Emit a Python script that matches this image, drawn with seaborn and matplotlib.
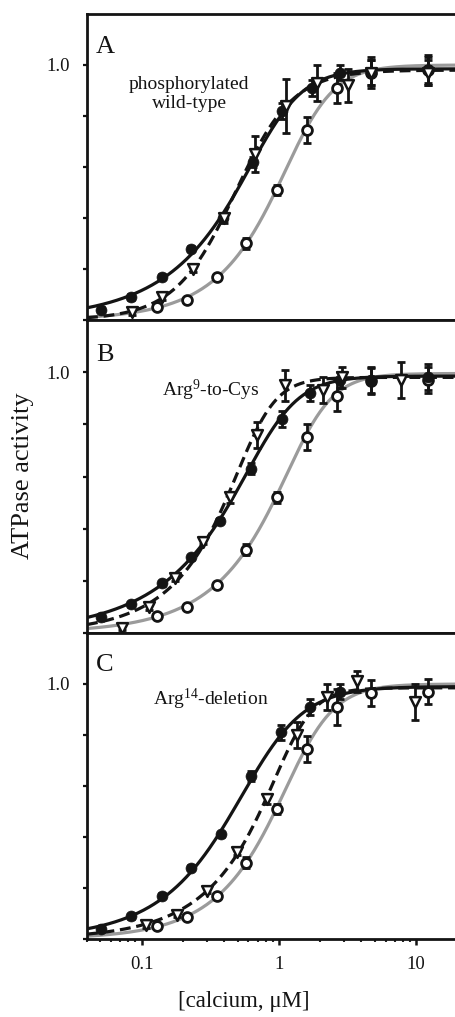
import numpy as np
import pandas as pd
import matplotlib
matplotlib.use("Agg")
import matplotlib.pyplot as plt
import seaborn as sns
from matplotlib.ticker import FixedLocator, FixedFormatter, NullFormatter

# ---------------- data ----------------
# Panel A: phosphorylated wild-type
A_fill_x = [0.051, 0.084, 0.14, 0.23, 0.39, 0.65, 1.05, 1.75, 2.8, 4.7, 12.3]
A_fill_y = [0.04, 0.09, 0.17, 0.28, 0.40, 0.62, 0.82, 0.91, 0.97, 0.97, 0.98]
A_fill_e = [0.01, 0.01, 0.01, 0.01, 0.01, 0.02, 0.03, 0.03, 0.03, 0.05, 0.05]
A_tri_x = [0.085, 0.14, 0.235, 0.40, 0.67, 1.12, 1.9, 3.2, 4.7, 12.3]
A_tri_y = [0.03, 0.09, 0.20, 0.40, 0.65, 0.84, 0.93, 0.92, 0.97, 0.97]
A_tri_e = [0.01, 0.01, 0.01, 0.02, 0.07, 0.105, 0.07, 0.065, 0.05, 0.05]
A_open_x = [0.13, 0.215, 0.355, 0.575, 0.97, 1.6, 2.65, 4.7, 12.3]
A_open_y = [0.05, 0.08, 0.17, 0.30, 0.51, 0.745, 0.91, 0.97, 0.98]
A_open_e = [0.01, 0.01, 0.01, 0.02, 0.02, 0.05, 0.06, 0.06, 0.06]

# Panel B: Arg9-to-Cys
B_fill_x = [0.051, 0.084, 0.14, 0.23, 0.37, 0.63, 1.05, 1.7, 2.8, 4.7, 12.3]
B_fill_y = [0.06, 0.11, 0.19, 0.29, 0.43, 0.63, 0.82, 0.92, 0.97, 0.97, 0.98]
B_fill_e = [0.01, 0.01, 0.01, 0.01, 0.01, 0.02, 0.03, 0.03, 0.03, 0.05, 0.05]
B_tri_x = [0.072, 0.113, 0.175, 0.28, 0.44, 0.69, 1.1, 2.1, 2.9, 7.7]
B_tri_y = [0.02, 0.10, 0.21, 0.35, 0.52, 0.76, 0.95, 0.93, 0.98, 0.97]
B_tri_e = [0.01, 0.01, 0.01, 0.01, 0.02, 0.05, 0.06, 0.05, 0.04, 0.07]
B_open_x = [0.13, 0.215, 0.355, 0.575, 0.97, 1.6, 2.65, 4.7, 12.3]
B_open_y = [0.065, 0.10, 0.185, 0.32, 0.52, 0.75, 0.91, 0.965, 0.97]
B_open_e = [0.01, 0.01, 0.01, 0.02, 0.02, 0.05, 0.06, 0.05, 0.05]

# Panel C: Arg14-deletion
C_fill_x = [0.051, 0.084, 0.14, 0.23, 0.38, 0.63, 1.03, 1.7, 2.8]
C_fill_y = [0.04, 0.09, 0.17, 0.28, 0.41, 0.64, 0.81, 0.91, 0.97]
C_fill_e = [0.01, 0.01, 0.01, 0.01, 0.01, 0.02, 0.03, 0.03, 0.03]
C_tri_x = [0.107, 0.18, 0.30, 0.495, 0.82, 1.35, 2.24, 3.7, 9.9]
C_tri_y = [0.055, 0.095, 0.19, 0.34, 0.55, 0.80, 0.95, 1.01, 0.93]
C_tri_e = [0.01, 0.01, 0.01, 0.01, 0.02, 0.05, 0.05, 0.04, 0.07]
C_open_x = [0.13, 0.215, 0.355, 0.575, 0.97, 1.6, 2.65, 4.7, 12.3]
C_open_y = [0.05, 0.085, 0.17, 0.30, 0.51, 0.745, 0.91, 0.965, 0.97]
C_open_e = [0.01, 0.01, 0.01, 0.02, 0.02, 0.05, 0.07, 0.05, 0.05]

# Parameters of the drawn fit curves, y = V / (1 + (K/x)^n)^m : (K, n, m, V)
A_fits = {"fill": (0.909, 2.55, 0.38, 0.985), "tri": (0.518, 2.10, 0.87, 0.98),
          "open": (1.481, 2.65, 0.47, 1.0)}
B_fits = {"fill": (0.876, 2.60, 0.35, 0.985), "tri": (0.673, 3.45, 0.35, 0.98),
          "open": (1.597, 2.90, 0.38, 0.995)}
C_fits = {"fill": (0.726, 2.05, 0.54, 0.99), "tri": (1.275, 3.45, 0.33, 0.985),
          "open": (1.481, 2.65, 0.47, 1.0)}

panel_letters = ["A", "B", "C"]
panel_notes = ["phosphorylated\nwild-type", "Arg$^{\\mathregular{9}}$-to-Cys",
               "Arg$^{\\mathregular{14}}$-deletion"]
x_tick_vals = [0.1, 1, 10]
x_tick_labels = ["0.1", "1", "10"]
y_tick_vals = [0.0, 0.2, 0.4, 0.6, 0.8, 1.0]
y_tick_labels = ["", "", "", "", "", "1.0"]

# ---------------- style ----------------
sns.set_style("ticks")
plt.rcParams["font.family"] = ["Liberation Serif", "DejaVu Serif"]
plt.rcParams["mathtext.fontset"] = "custom"
plt.rcParams["mathtext.rm"] = "Liberation Serif"
plt.rcParams["mathtext.it"] = "Liberation Serif:italic"

INK = "#141414"
GRAY = "#9b9b9b"


def richards(x, K, n, m, V):
    return V / (1 + (K / x) ** n) ** m


fig = plt.figure(figsize=(4.56, 10.17), dpi=100)
W, H = 456.0, 1017.0
left_px, right_px = 87.0, 457.4
rows_px = [(14, 320), (320, 633), (633, 939)]
axes = []
for top, bot in rows_px:
    ax = fig.add_axes([left_px / W, 1 - bot / H, (right_px - left_px) / W, (bot - top) / H])
    axes.append(ax)

xcurve = np.logspace(np.log10(0.04), np.log10(20), 400)

panels = [
    (A_fill_x, A_fill_y, A_fill_e, A_tri_x, A_tri_y, A_tri_e, A_open_x, A_open_y, A_open_e, A_fits),
    (B_fill_x, B_fill_y, B_fill_e, B_tri_x, B_tri_y, B_tri_e, B_open_x, B_open_y, B_open_e, B_fits),
    (C_fill_x, C_fill_y, C_fill_e, C_tri_x, C_tri_y, C_tri_e, C_open_x, C_open_y, C_open_e, C_fits),
]

note_pos = [(189, 94), (211, 390), (211, 699)]
letter_pos = [(96, 47), (96, 355), (96, 665)]

for i, (ax, p) in enumerate(zip(axes, panels)):
    fx, fy, fe, tx, ty, te, ox, oy, oe, fits = p
    ax.set_xscale("log")
    # fitted curves
    cdf = pd.DataFrame({"x": xcurve,
                        "open": richards(xcurve, *fits["open"]),
                        "fill": richards(xcurve, *fits["fill"]),
                        "tri": richards(xcurve, *fits["tri"])})
    sns.lineplot(data=cdf, x="x", y="open", ax=ax, color=GRAY, lw=2.3, zorder=1.5)
    sns.lineplot(data=cdf, x="x", y="fill", ax=ax, color=INK, lw=2.3, zorder=2)
    sns.lineplot(data=cdf, x="x", y="tri", ax=ax, color=INK, lw=2.3, zorder=2.1)
    ax.lines[-1].set_dashes((3.4, 1.8))

    # error bars
    for xs, ys, es in [(ox, oy, oe), (fx, fy, fe), (tx, ty, te)]:
        ax.errorbar(xs, ys, yerr=es, fmt="none", ecolor=INK, elinewidth=2.0,
                    capsize=3.2, capthick=2.0, zorder=3)

    # markers
    sns.scatterplot(x=ox, y=oy, ax=ax, marker="o", s=50, facecolor="white",
                    edgecolor=INK, linewidth=2.0, zorder=4)
    sns.scatterplot(x=fx, y=fy, ax=ax, marker="o", s=62, color=INK,
                    edgecolor=INK, linewidth=0.5, zorder=4)
    sns.scatterplot(x=tx, y=ty, ax=ax, marker="v", s=60, facecolor="white",
                    edgecolor=INK, linewidth=1.8, zorder=4.1)

    ax.set_xlim(0.04, 20)
    ax.set_ylim(0, 1.2)
    ax.set_xlabel("")
    ax.set_ylabel("")

    ax.yaxis.set_major_locator(FixedLocator(y_tick_vals))
    ax.yaxis.set_major_formatter(FixedFormatter(y_tick_labels))
    ax.tick_params(axis="y", direction="out", length=3.2, width=1.6, pad=9,
                   labelsize=13.5, colors=INK)
    for s in ax.spines.values():
        s.set_linewidth(2.0)
        s.set_color(INK)

    if i < 2:
        ax.tick_params(axis="x", which="both", length=0, labelbottom=False)
    else:
        ax.xaxis.set_major_locator(FixedLocator(x_tick_vals))
        ax.xaxis.set_major_formatter(FixedFormatter(x_tick_labels))
        ax.xaxis.set_minor_formatter(NullFormatter())
        ax.tick_params(axis="x", which="major", direction="out", length=4, width=1.8,
                       pad=8, labelsize=13.5, colors=INK)
        ax.tick_params(axis="x", which="minor", direction="out", length=2.5, width=1.5)

    lx, ly = letter_pos[i]
    fig.text(lx / W, 1 - ly / H, panel_letters[i], fontsize=19, ha="left", va="center",
             color=INK)
    nx, ny = note_pos[i]
    fig.text(nx / W, 1 - ny / H, panel_notes[i], fontsize=14, ha="center", va="center",
             color=INK, linespacing=1.15)

fig.text(23 / W, 1 - 476 / H, "ATPase activity", rotation=90, fontsize=19,
         ha="center", va="center", color=INK)
fig.text(244 / W, 1 - 1002 / H, "[calcium, μM]", fontsize=16.5, ha="center",
         va="center", color=INK)

fig.savefig("out.png", dpi=100)
